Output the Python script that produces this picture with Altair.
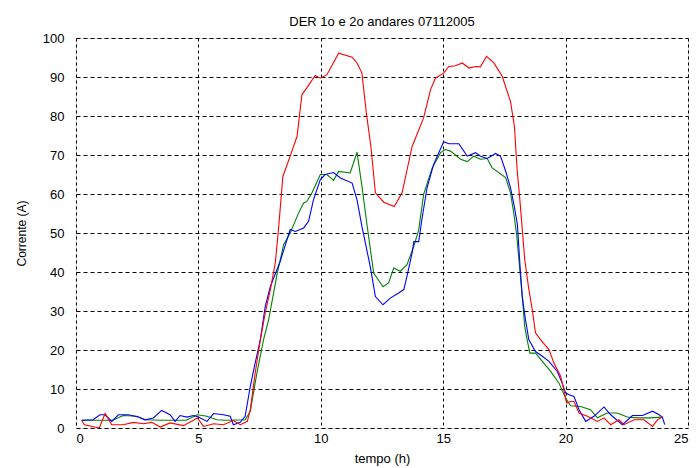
import altair as alt
import pandas as pd

red_x = [0.23,0.34,0.95,1.19,1.46,1.93,2.35,2.75,3.1,3.44,3.84,4.39,4.96,5.21,5.62,6.02,6.43,6.71,7.0,7.12,7.32,7.53,7.73,7.94,8.14,8.27,8.45,8.75,9.03,9.23,9.43,9.77,9.98,10.25,10.73,11.28,11.48,11.68,11.86,12.05,12.23,12.57,13.0,13.32,13.73,14.2,14.48,14.68,15.02,15.23,15.5,15.78,16.05,16.32,16.52,16.77,17.07,17.41,17.75,17.91,18.02,18.12,18.23,18.33,18.5,18.64,18.77,18.98,19.32,19.52,19.8,19.93,20.04,20.2,20.34,20.55,20.89,21.3,21.57,21.84,22.18,22.38,22.8,23.2,23.55,23.75,23.95]
red_y = [1.97,0.85,0,3.7,0.85,0.85,1.45,1.1,1.45,0.25,1.3,0.6,2.56,0.4,1.1,0.85,1.9,0.85,1.7,4.7,14.1,22.6,29.5,35.5,42.3,50.8,64.5,69.7,74.8,85.5,87.2,90.4,89.7,90.6,96.1,95.1,93.6,91,80.8,72,60.3,57.9,56.8,60.3,72.2,79.5,86.7,89.7,91,92.7,92.9,93.6,92.3,92.7,92.6,95.3,93.6,90.2,83.7,77.3,66.2,59.4,51,43.2,35.5,30.3,24.4,22.6,20.1,16.7,13.2,9.8,6.4,6.8,6.8,3.85,3,1.7,2.6,0.85,2.1,0.85,2.1,2.1,0.4,2.1,2.8]

blue_x = [0.23,0.7,0.98,1.19,1.46,1.73,2.14,2.55,2.82,3.16,3.5,3.84,4.05,4.25,4.53,4.8,5.0,5.35,5.62,6.02,6.3,6.43,6.71,6.91,7.12,7.32,7.53,7.73,7.94,8.34,8.75,8.96,9.3,9.5,9.7,9.98,10.18,10.52,10.8,11.28,11.48,11.68,12.02,12.23,12.54,12.84,13.18,13.39,13.52,13.73,13.8,14.0,14.14,14.34,14.61,15.02,15.23,15.64,15.98,16.32,16.52,16.8,17.14,17.34,17.55,17.75,17.89,18.03,18.13,18.23,18.36,18.5,18.77,19.05,19.32,19.66,19.86,20.0,20.14,20.34,20.55,20.82,21.16,21.57,21.84,22.32,22.73,23.14,23.55,23.82,23.95,24.05]
blue_y = [1.97,2.1,3.4,3.4,1.7,3.4,3.4,2.8,2.1,2.56,4.5,3.4,1.7,3.2,2.8,3.2,2.8,1.7,3.7,3.4,3,0.85,1.45,3,10.7,16.7,22.6,31.2,36.3,42.7,50.9,50.4,51.3,53,58.5,63.7,65,65.5,64.1,62.8,58.5,51.7,41.4,33.7,31.6,33.3,34.6,35.5,38.9,44.9,47.8,47.8,53.9,61.6,67.6,73.4,72.9,72.9,69.7,70.6,69.7,69.1,70.4,69.7,65.9,61.6,57.3,52.2,42.3,33.7,27.8,22.6,19.6,18.4,17.1,14.5,11.5,9,8.5,8.1,4.7,1.7,3,5.4,3.4,0.85,3.2,3.2,4.3,3.4,2.8,0.85]

green_x = [0.23,1.5,1.93,2.48,2.82,3.5,4.5,4.96,5.35,5.75,6.16,6.91,7.12,7.39,7.66,7.87,8.21,8.48,8.75,9.09,9.3,9.43,9.64,9.98,10.25,10.52,10.73,11.2,11.48,11.68,11.86,12.16,12.54,12.77,12.98,13.25,13.52,13.8,14.0,14.2,14.55,14.89,15.09,15.3,15.71,15.98,16.25,16.52,16.8,17.0,17.55,17.75,17.89,18.0,18.13,18.23,18.33,18.43,18.54,18.77,19.05,19.39,19.73,20.0,20.2,20.61,21.02,21.3,21.7,22.11,22.52,22.93,23.48,23.95]
green_y = [2,2,3.2,3,2.1,2,2,3.4,3,2.1,2,2.1,4.3,14.1,22.6,27.8,39.3,47,50,55.1,57.7,58.1,60.3,65,65,63.5,65.8,65.4,70.7,62,53.4,39.7,36.2,37.2,41,40.2,41.9,46.6,50.8,59.9,66.7,70.6,71.4,71,68.9,68.3,69.7,68.9,69.1,66.7,64.2,60.3,54.8,49.6,40.6,33.7,26,22.6,19.2,19.2,17.1,14.5,11.5,7.7,5.7,5.5,4.7,2.6,3.85,3.85,2.8,2.6,2.6,2.8]

series_names = ["verde", "azul", "vermelho"]
series_colors = ["#008000", "#0000ff", "#ff0000"]

rows = []
for name, xs, ys in [("verde", green_x, green_y), ("azul", blue_x, blue_y), ("vermelho", red_x, red_y)]:
    for i, (a, b) in enumerate(zip(xs, ys)):
        rows.append({"serie": name, "t": a, "i": b, "ord": i})
df = pd.DataFrame(rows)

FONT = "Liberation Sans"

chart = alt.Chart(df).mark_line(strokeWidth=1.1, clip=True).encode(
    x=alt.X("t:Q", scale=alt.Scale(domain=[0, 25], nice=False),
            axis=alt.Axis(title="tempo (h)", values=[0, 5, 10, 15, 20, 25], format="d",
                          grid=True, gridColor="black", gridDash=[3, 3], gridOpacity=1,
                          domain=False, ticks=False,
                          labelFont=FONT, labelFontSize=13, labelColor="black", labelPadding=4,
                          titleFont=FONT, titleFontSize=13, titleFontWeight="normal",
                          titleColor="black", titlePadding=7)),
    y=alt.Y("i:Q", scale=alt.Scale(domain=[0, 100], nice=False),
            axis=alt.Axis(title="Corrente (A)", values=list(range(0, 101, 10)), format="d",
                          grid=True, gridColor="black", gridDash=[4, 3], gridOpacity=1,
                          domain=False, ticks=False,
                          labelFont=FONT, labelFontSize=13, labelColor="black", labelPadding=12,
                          titleFont=FONT, titleFontSize=12, titleFontWeight="normal",
                          titleColor="black", titlePadding=14)),
    color=alt.Color("serie:N", scale=alt.Scale(domain=series_names, range=series_colors), legend=None),
    order=alt.Order("ord:Q"),
    detail="serie:N",
).properties(
    width=612, height=390,
    title=alt.TitleParams("DER 1o e 2o andares 07112005", font=FONT, fontSize=13,
                          fontWeight="normal", color="black", offset=3, anchor="middle"),
    autosize=alt.AutoSizeParams(type="none"),
    padding={"left": 68, "top": 30, "right": 1, "bottom": 40},
).configure_view(stroke="#333", strokeWidth=1.5).configure(background="white")

chart.save("out.html", embed_options={"renderer": "svg", "actions": False})
